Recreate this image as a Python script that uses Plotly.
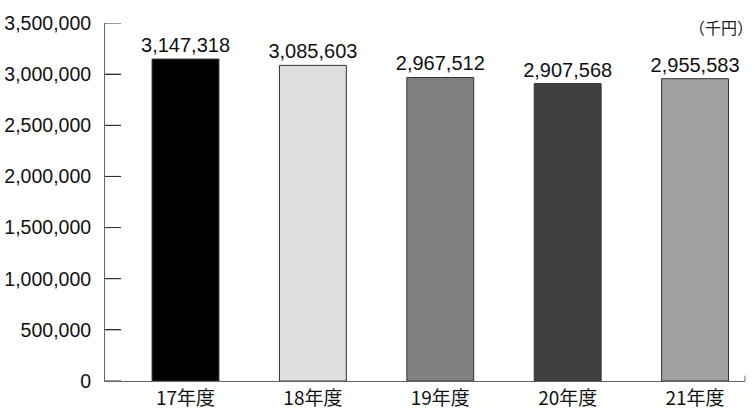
import plotly.graph_objects as go

categories = ["17年度", "18年度", "19年度", "20年度", "21年度"]
values = [3147318, 3085603, 2967512, 2907568, 2955583]
bar_colors = ["#000000", "#dedede", "#808080", "#404040", "#a0a0a0"]
y_ticks = [0, 500000, 1000000, 1500000, 2000000, 2500000, 3000000, 3500000]
unit_label = "（千円）"

font_main = "Liberation Sans, Noto Sans CJK JP, Arial, sans-serif"
font_jp = "Noto Sans CJK JP, Liberation Sans, sans-serif"

fig = go.Figure(
    go.Bar(
        x=categories,
        y=values,
        marker=dict(color=bar_colors, line=dict(color="#333333", width=1)),
        width=0.525,
        text=[f"{v:,}" for v in values],
        textposition="outside",
        constraintext="none",
        textfont=dict(size=20, color="#111111", family=font_main),
        cliponaxis=False,
        hoverinfo="skip",
    )
)

fig.update_layout(
    template="none",
    width=755,
    height=409,
    margin=dict(l=105, r=10, t=23, b=28, autoexpand=False),
    paper_bgcolor="white",
    plot_bgcolor="white",
    showlegend=False,
    font=dict(family=font_main, size=20, color="#111111"),
)

fig.update_yaxes(
    range=[0, 3500000],
    tickvals=y_ticks,
    tickformat=",d",
    ticks="inside",
    ticklen=16,
    tickwidth=1,
    tickcolor="#333333",
    showline=True,
    linecolor="#666666",
    linewidth=1,
    showgrid=False,
    zeroline=False,
    automargin=False,
    tickfont=dict(size=19.5, family=font_main, color="#111111"),
    ticklabelstandoff=9,
)

fig.update_xaxes(
    range=[-0.632, 4.392],
    showline=True,
    linecolor="#666666",
    linewidth=1,
    ticks="",
    showgrid=False,
    zeroline=False,
    automargin=False,
    tickfont=dict(size=19, family=font_jp, color="#111111"),
)

# tick marks drawn inward from the y axis at each tick value
for v in y_ticks:
    fig.add_shape(
        type="line", xref="paper", yref="y",
        x0=0, x1=16 / 640, y0=v, y1=v,
        line=dict(color="#333333", width=1),
    )

fig.add_shape(
    type="line", xref="paper", yref="paper",
    x0=1, x1=1, y0=0, y1=0.015,
    line=dict(color="#666666", width=1),
)

fig.add_annotation(
    text=unit_label, xref="paper", yref="paper",
    x=1.0156, y=0.99, xanchor="right", yanchor="middle",
    showarrow=False,
    font=dict(size=16, family=font_jp, color="#222222"),
)

fig.write_html(
    "out.html",
    config={"displayModeBar": False},
    post_script="document.body.style.margin='0';document.body.style.padding='0';",
)
